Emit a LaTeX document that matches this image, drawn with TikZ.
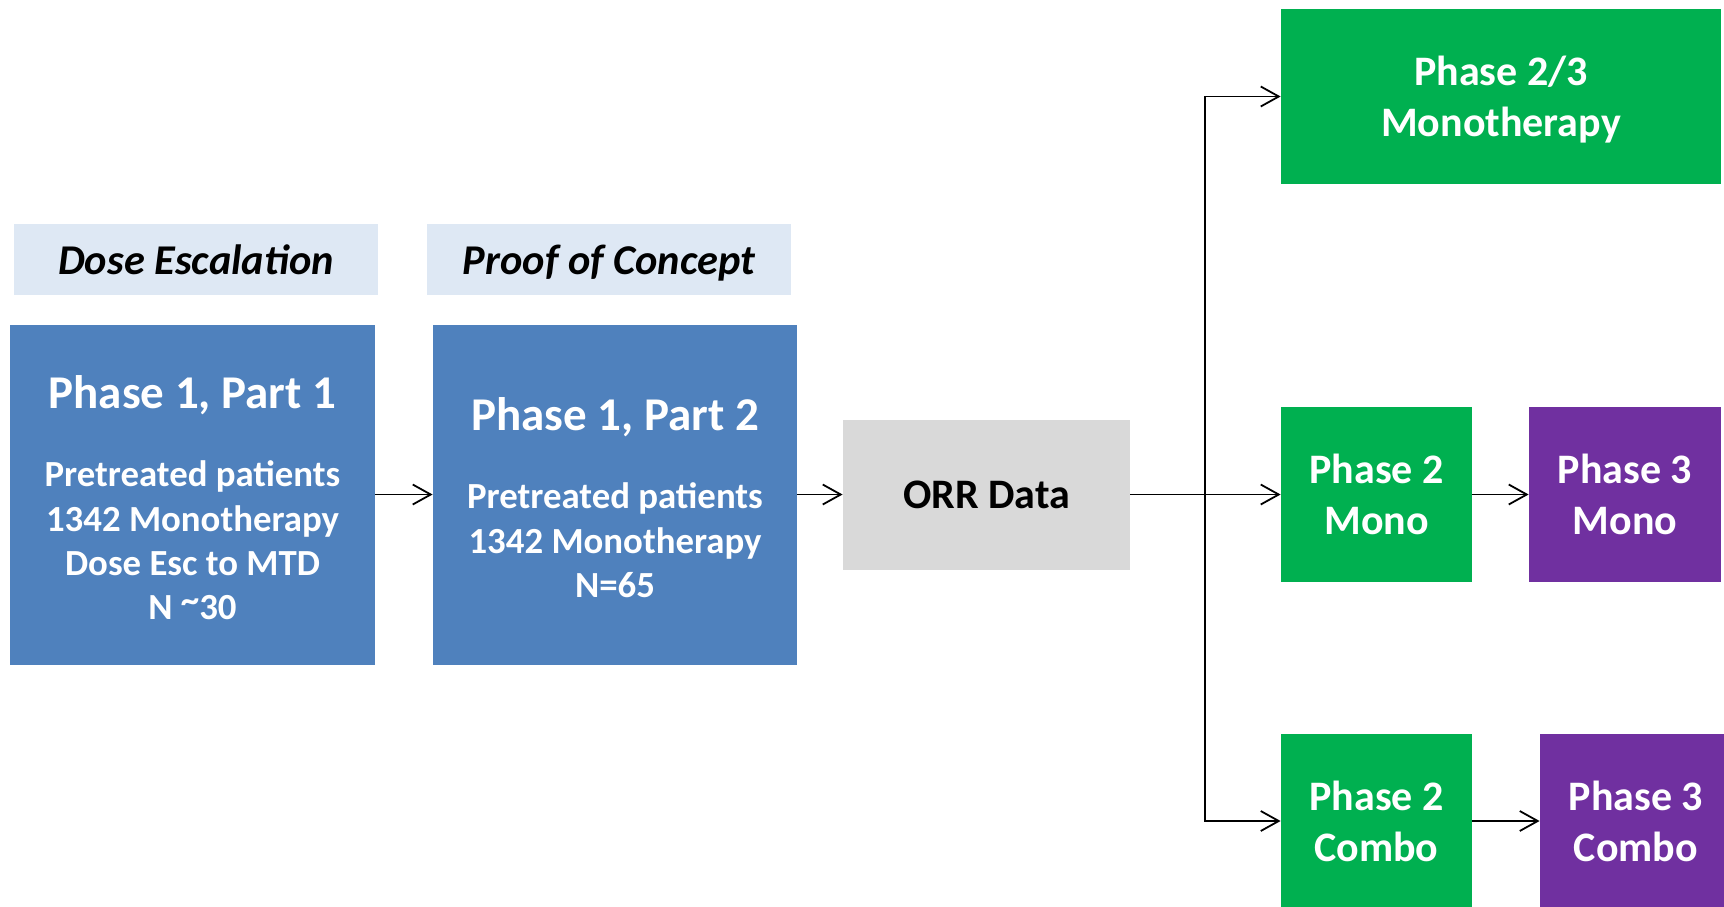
\documentclass[tikz,border=0pt]{standalone}
\usepackage{fontspec}
\setmainfont{Carlito}
\usetikzlibrary{arrows.meta}

\definecolor{partblue}{HTML}{4F81BD}
\definecolor{labelblue}{HTML}{DEE8F4}
\definecolor{orrgrey}{HTML}{D9D9D9}
\definecolor{phgreen}{HTML}{00B050}
\definecolor{phpurple}{HTML}{7030A0}

\begin{document}
\begin{tikzpicture}[x=0.5pt,y=-0.5pt,
  stage/.style={inner sep=0pt, align=center, text=white,
    font=\fontsize{18.4}{22.2}\selectfont\bfseries},
  tag/.style={inner sep=0pt, fill=labelblue, minimum width=182pt, minimum height=35.5pt,
    text depth=0pt, font=\fontsize{21.2}{25}\selectfont\bfseries\itshape},
  phase/.style={inner sep=0pt, align=center, text=white, minimum height=87.5pt,
    font=\fontsize{21}{25.5}\selectfont\bfseries},
  arr/.style={line width=0.9pt, -{Straight Barb[length=9pt,width=10pt]}}]
  \useasboundingbox (0,0) rectangle (1724,906);
  % top labels
  \node[tag] (esc) at (196,259.5) {Dose Escalation};
  \node[tag] (poc) at (609,259.5) {Proof of Concept};
  % phase 1 boxes
  \node[stage, fill=partblue, minimum width=182.5pt, minimum height=170pt] (part1) at (192.5,494.5)
    {\raisebox{0pt}[\dimexpr\height+3.2pt]{\fontsize{23.5}{28}\selectfont Phase 1, Part 1}\\[17pt]
     Pretreated patients\\ 1342 Monotherapy\\ Dose Esc to MTD\\ N \raisebox{0.2em}{\textasciitilde}30};
  \node[stage, fill=partblue, minimum width=182pt, minimum height=170pt] (part2) at (615,494.5)
    {\raisebox{0pt}[\dimexpr\height+3.2pt]{\fontsize{23.5}{28}\selectfont Phase 1, Part 2}\\[17pt]
     Pretreated patients\\ 1342 Monotherapy\\ N=65};
  \node[stage, fill=orrgrey, text=black, minimum width=143.5pt, minimum height=75pt,
    font=\fontsize{21}{25}\selectfont\bfseries] (orr) at (986.5,494.5) {ORR Data};
  % later phases
  \node[phase, fill=phgreen, minimum width=220pt] (ph23) at (1501,96.5)
    {Phase 2/3\\\raisebox{0pt}[\height][0pt]{Monotherapy}};
  \node[phase, fill=phgreen, minimum width=95.5pt] (ph2mono) at (1376.5,494.5) {Phase 2\\Mono};
  \node[phase, fill=phpurple, minimum width=96pt] (ph3mono) at (1625,494.5) {Phase 3\\Mono};
  \node[phase, fill=phgreen, minimum width=95.5pt] (ph2combo) at (1376.5,821) {Phase 2\\Combo};
  \node[phase, fill=phpurple, minimum width=96pt] (ph3combo) at (1636,821) {Phase 3\\Combo};
  % connectors
  \coordinate (split) at (1205,494.5);
  \draw[arr] (part1) -- (part2);
  \draw[arr] (part2) -- (orr);
  \draw[line width=0.9pt] (orr) -- (split);
  \draw[arr] (split) -- (ph2mono);
  \draw[arr] (split) |- (ph23);
  \draw[arr] (split) |- (ph2combo);
  \draw[arr] (ph2mono) -- (ph3mono);
  \draw[arr] (ph2combo) -- (ph3combo);
\end{tikzpicture}
\end{document}
